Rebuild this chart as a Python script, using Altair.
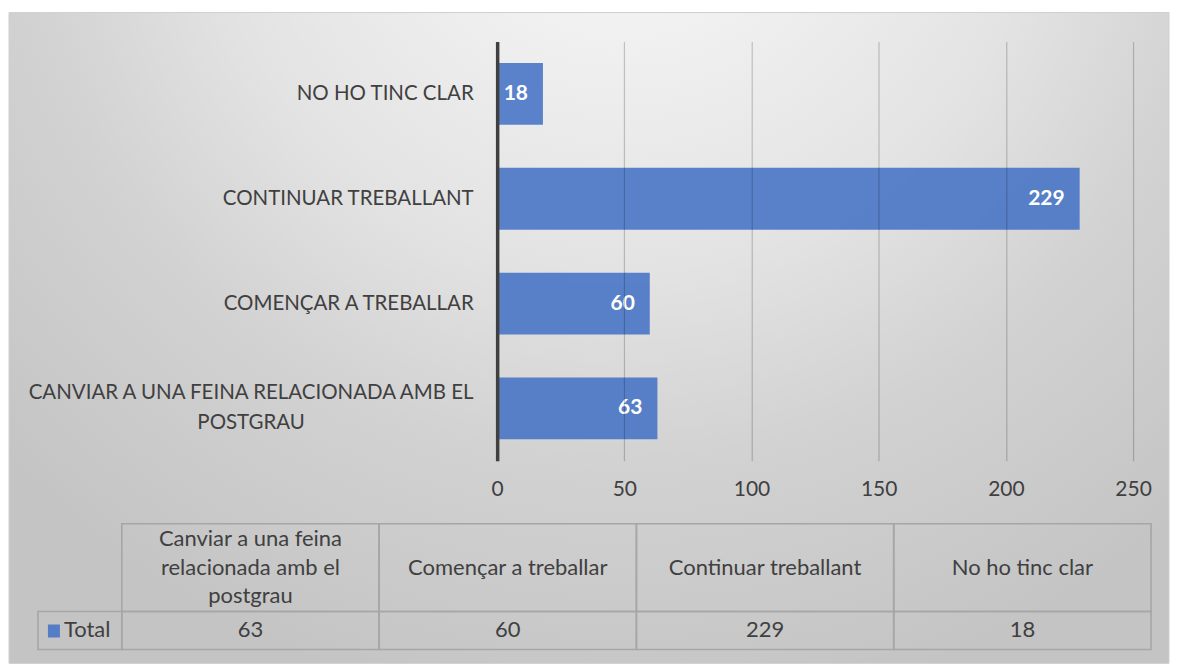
import altair as alt
import pandas as pd

# ---- data ----
categories = [
    "CANVIAR A UNA FEINA RELACIONADA AMB EL POSTGRAU",
    "COMENÇAR A TREBALLAR",
    "CONTINUAR TREBALLANT",
    "NO HO TINC CLAR",
]
table_headers = [
    "Canviar a una feina\nrelacionada amb el\npostgrau",
    "Començar a treballar",
    "Continuar treballant",
    "No ho tinc clar",
]
values = [63, 60, 229, 18]
series_name = "Total"
x_ticks = [0, 50, 100, 150, 200, 250]

FONT = "Lato"
TEXT = "#404040"
BLUE = "#4472C4"
BORDER = "#a6a6a6"
FS = 22

df = pd.DataFrame({"cat": categories, "head": table_headers, "value": values})
bar_order = list(reversed(categories))

multi = "indexof(datum.label, 'POSTGRAU') >= 0"

# ---- background (decoration) ----
bg = alt.Chart(alt.Data(values=[{}])).mark_rect(
    fill={
        "gradient": "radial",
        "x1": 0.53, "y1": 0.08, "r1": 0,
        "x2": 0.53, "y2": 0.08, "r2": 0.75,
        "stops": [
            {"offset": 0, "color": "#fcfcfc"},
            {"offset": 0.22, "color": "#f0f0f0"},
            {"offset": 0.48, "color": "#e3e3e3"},
            {"offset": 0.7, "color": "#d2d2d2"},
            {"offset": 1, "color": "#c4c4c4"},
        ],
    },
    stroke="#d0d0d0",
    strokeWidth=1,
).encode(
    x=alt.value(-489), x2=alt.value(673), y=alt.value(-29), y2=alt.value(623)
)

# ---- bars ----
xscale = alt.Scale(domain=[0, 250], nice=False)
yscale = alt.Scale(paddingInner=0.41, paddingOuter=0.205)

x_axis = alt.Axis(
    values=x_ticks, grid=True, gridColor="#000000", gridOpacity=0.2,
    gridWidth=1.2, domain=False, ticks=False, labelPadding=18,
    labelFlush=False,
    labelFont=FONT, labelFontSize=21, labelColor=TEXT, title=None,
    zindex=1,
)
y_axis = alt.Axis(
    title=None, ticks=False, domainColor="#404040", domainWidth=3.5,
    labelFont=FONT, labelFontSize=20.5, labelColor=TEXT, labelLimit=700,
    labelExpr="split(replace(datum.label, ' POSTGRAU', '|POSTGRAU'), '|')",
    labelAlign={"condition": {"test": multi, "value": "center"}, "value": "right"},
    labelPadding={"condition": {"test": multi, "value": 247}, "value": 24},
    labelOffset={"condition": {"test": multi, "value": -15}, "value": 0},
    labelLineHeight=30,
    zindex=1,
)

bars = alt.Chart(df).mark_bar(color=BLUE, opacity=0.87).encode(
    x=alt.X("value:Q", scale=xscale, axis=x_axis),
    y=alt.Y("cat:N", sort=bar_order, scale=yscale, axis=y_axis),
)

bar_labels = alt.Chart(df).mark_text(
    align="right", baseline="middle", dx=-15, color="white",
    font=FONT, fontSize=21, fontWeight="bold",
).encode(
    x=alt.X("value:Q", scale=xscale, axis=x_axis),
    y=alt.Y("cat:N", sort=bar_order, scale=yscale, axis=y_axis),
    text=alt.Text("value:Q"),
)

bar_layer = alt.layer(bars, bar_labels)

# ---- data table ----
tscale = alt.Scale(domain=categories, range=[-376, 655], paddingInner=0, paddingOuter=0)
tx = alt.X("cat:N", scale=tscale, axis=None, sort=categories)

head_cells = alt.Chart(df).mark_rect(filled=False, stroke=BORDER, strokeWidth=1.6).encode(
    x=tx, y=alt.value(483), y2=alt.value(571)
)
val_cells = alt.Chart(df).mark_rect(filled=False, stroke=BORDER, strokeWidth=1.6).encode(
    x=tx, y=alt.value(571), y2=alt.value(609)
)
head_text = alt.Chart(df).transform_calculate(
    ty="527 - (length(split(datum.head, '\\n')) - 1) * 14.25"
).mark_text(
    font=FONT, fontSize=FS, color=TEXT, baseline="middle", lineBreak="\n", lineHeight=28.5
).encode(x=tx, y=alt.Y("ty:Q", scale=None, axis=None), text="head:N")
val_text = alt.Chart(df).mark_text(
    font=FONT, fontSize=FS, color=TEXT, baseline="middle"
).encode(x=tx, y=alt.value(590), text="value:Q")

table_layer = alt.layer(head_cells, val_cells, head_text, val_text)

legend_df = pd.DataFrame({"name": [series_name]})
legend_cell = alt.Chart(legend_df).mark_rect(filled=False, stroke=BORDER, strokeWidth=1.6).encode(
    x=alt.value(-460), x2=alt.value(-376), y=alt.value(571), y2=alt.value(609)
)
legend_sq = alt.Chart(legend_df).mark_rect(color=BLUE, opacity=0.87).encode(
    x=alt.value(-450), x2=alt.value(-438), y=alt.value(584), y2=alt.value(597)
)
legend_txt = alt.Chart(legend_df).mark_text(
    font=FONT, fontSize=FS, color=TEXT, align="left", baseline="middle"
).encode(x=alt.value(-434), y=alt.value(590), text="name:N")

chart = alt.layer(
    bg, bar_layer, table_layer, legend_cell, legend_sq, legend_txt
).resolve_scale(x="independent", y="independent").properties(
    width=637, height=420,
    padding={"left": 0, "top": 3, "right": 0, "bottom": 0},
).configure_view(stroke=None).configure(background="#ffffff")

chart.save("out.html", embed_options={"renderer": "svg", "actions": False})
